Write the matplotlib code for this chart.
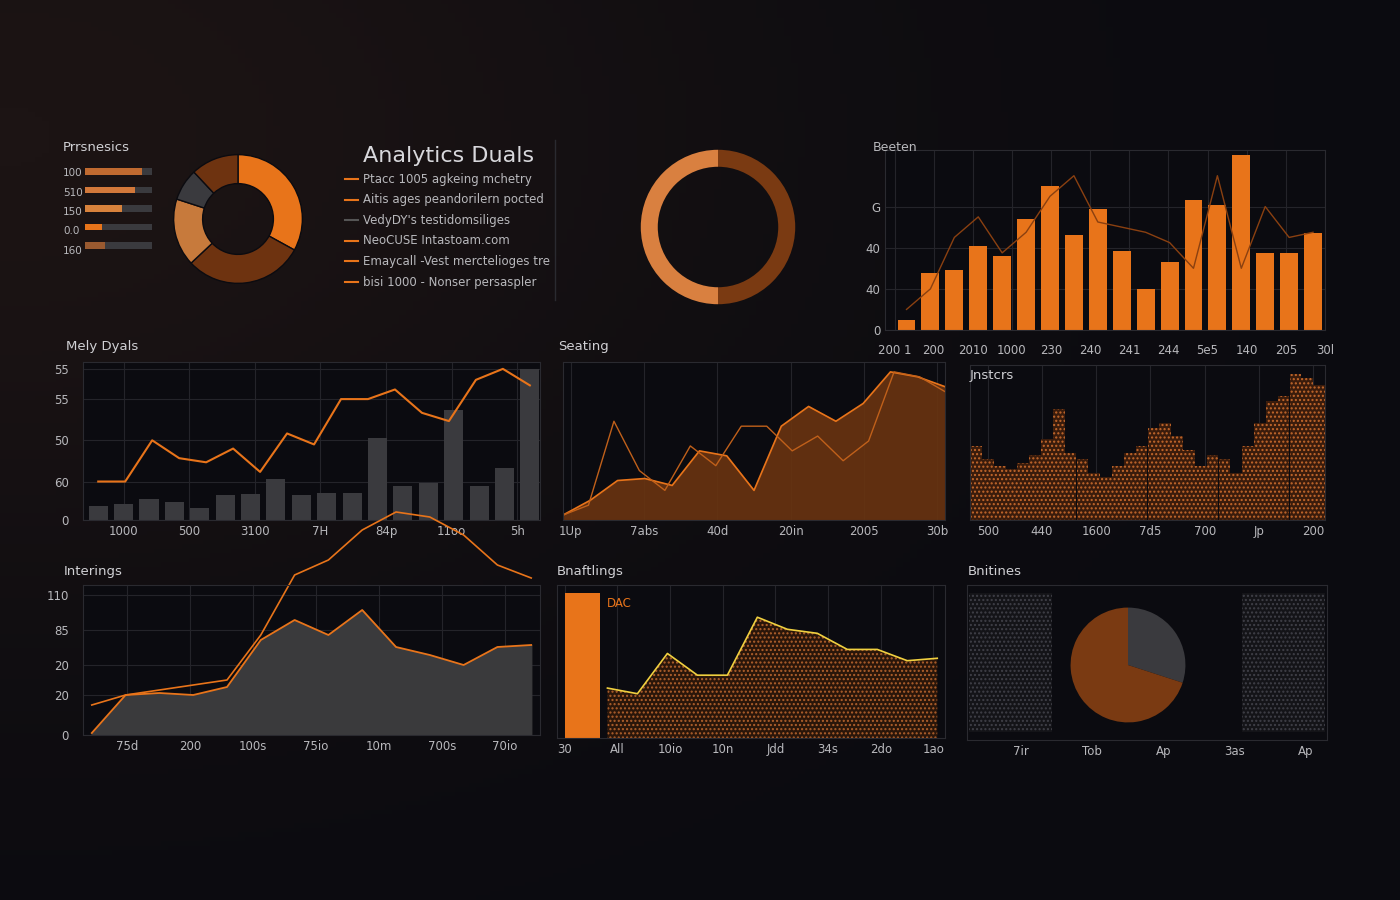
import matplotlib
matplotlib.use("Agg")
import matplotlib.pyplot as plt
import numpy as np

W, H = 1400, 900
BG = "#0b0b10"
OR = "#e8741a"
TXT = "#b8b8bc"

# ---- data ----
prog_labels = ["100", "510", "150", "0.0", "160"]
prog_vals = [0.85, 0.75, 0.55, 0.25, 0.30]
prog_cols = ["#c06a30", "#d2783a", "#d8823c", "#e8741a", "#9a5a30"]

donut1_vals = [33, 30, 17, 8, 12]
donut1_cols = ["#e8741a", "#6e3310", "#c77a3c", "#3a3a3e", "#6e3310"]

legend_items = ["Ptacc 1005 agkeing mchetry", "Aitis ages peandorilern pocted",
                "VedyDY's testidomsiliges", "NeoCUSE Intastoam.com",
                "Emaycall -Vest merctelioges tre", "bisi 1000 - Nonser persaspler"]
legend_cols = [OR, OR, "#555555", OR, OR, OR]

donut2_vals = [50, 50]

bar_vals = [10, 55, 58, 82, 72, 108, 140, 92, 118, 77, 40, 66, 126, 122, 170, 75, 75, 94]
bar_line = [20, 40, 90, 110, 75, 95, 130, 150, 105, 100, 95, 85, 60, 150, 60, 120, 90, 95]
bar_xt = ["200 1", "200", "2010", "1000", "230", "240", "241", "244", "5e5", "140", "205", "30l"]
bar_yt = ["0", "40", "40", "G"]

mely_line = [28, 28, 58, 45, 42, 52, 35, 63, 55, 88, 88, 95, 78, 72, 102, 110, 98]
mely_bars = [10, 12, 15, 13, 9, 18, 19, 30, 18, 20, 20, 60, 25, 27, 80, 25, 38, 110]
mely_xt = ["1000", "500", "3100", "7H", "84p", "11oo", "5h"]
mely_yt = ["0", "60", "50", "55", "55"]

seat_area = [5, 20, 40, 42, 35, 70, 65, 30, 95, 115, 100, 118, 150, 145, 135]
seat_line = [5, 15, 100, 50, 30, 75, 55, 95, 95, 70, 85, 60, 80, 150, 145, 130]
seat_xt = ["1Up", "7abs", "40d", "20in", "2005", "30b"]

jn_vals = [55, 45, 40, 38, 42, 48, 60, 82, 50, 45, 35, 32, 40, 50, 55, 68, 72, 62, 52, 40,
           48, 45, 35, 55, 72, 88, 92, 108, 105, 100]
jn_xt = ["500", "440", "1600", "7d5", "700", "Jp", "200"]

int_area = [2, 40, 42, 40, 48, 95, 115, 100, 125, 88, 80, 70, 88, 90]
int_line = [30, 40, 45, 50, 55, 100, 160, 175, 205, 223, 218, 200, 170, 157]
int_xt = ["75d", "200", "100s", "75io", "10m", "700s", "70io"]
int_yt = ["0", "20", "20", "85", "110"]

bn_line = [62, 55, 105, 78, 78, 150, 135, 130, 110, 110, 96, 99]
bn_xt = ["30", "All", "10io", "10n", "Jdd", "34s", "2do", "1ao"]

pie_vals = [30, 70]
pie_xt = ["7ir", "Tob", "Ap", "3as", "Ap"]

fig = plt.figure(figsize=(14, 9), dpi=100, facecolor=BG)


def ax_px(x0, y0, x1, y1, **kw):
    return fig.add_axes([x0 / W, 1 - y1 / H, (x1 - x0) / W, (y1 - y0) / H], **kw)


def style(ax, grid=True):
    ax.set_facecolor(BG)
    for s in ax.spines.values():
        s.set_color("#2a2a30")
    ax.tick_params(colors=TXT, labelsize=8.5, length=0)
    if grid:
        ax.grid(color="#24242a", lw=0.8)
        ax.set_axisbelow(True)


def ftext(x, y, s, **kw):
    kw.setdefault("color", TXT)
    kw.setdefault("fontsize", 9)
    fig.text(x / W, 1 - y / H, s, **kw)


def fitpie(ax):
    ax.set_xlim(-1.01, 1.01); ax.set_ylim(-1.01, 1.01); ax.set_aspect("equal")


# background gradient
bg = fig.add_axes([0, 0, 1, 1], zorder=-10)
g = np.linspace(0, 1, 200)
X, Y = np.meshgrid(g, g)
bg.imshow(np.exp(-((X) ** 2 + (Y - 0.15) ** 2) / 0.3),
          cmap=matplotlib.colors.LinearSegmentedColormap.from_list("b", [BG, "#1c1414"]), aspect="auto")
bg.axis("off")

# 1 progress bars
ftext(63, 151, "Prrsnesics", fontsize=9.5, color="#d0d0d4")
for i, l in enumerate(prog_labels):
    y = 172 + i * 19.5
    ftext(63, y + 4, l, fontsize=7.5)
ax = ax_px(85, 162, 152, 255)
ax.set_xlim(0, 1); ax.set_ylim(len(prog_vals) - 0.5, -0.5); ax.axis("off")
ax.barh(range(5), [1] * 5, height=0.35, color="#3a3a3e")
ax.barh(range(5), prog_vals, height=0.35, color=prog_cols)

# 2 donut1
ax = ax_px(173, 154, 303, 284)
ax.pie(donut1_vals, colors=donut1_cols, startangle=90, counterclock=False,
       wedgeprops=dict(width=0.45, edgecolor=BG, linewidth=1))
fitpie(ax)

# 3 title + legend
ftext(363, 162, "Analytics Duals", fontsize=16, color="#d8d8dc")
for i, (t, c) in enumerate(zip(legend_items, legend_cols)):
    y = 179 + i * 20.5
    fig.add_artist(plt.Line2D([345 / W, 358 / W], [1 - y / H] * 2, color=c, lw=1.5))
    ftext(363, y + 4, t, fontsize=8.5)
fig.add_artist(plt.Line2D([555 / W] * 2, [1 - 140 / H, 1 - 300 / H], color="#2a2a30", lw=1))

# 4 donut2
ax = ax_px(640, 149, 796, 305)
ax.pie(donut2_vals, colors=["#7a3a12", "#d98040"], startangle=90, counterclock=False,
       wedgeprops=dict(width=0.22))
fitpie(ax)

# 5 bar chart
ftext(873, 151, "Beeten", fontsize=9)
ax = ax_px(885, 150, 1325, 330)
style(ax)
ax.bar(range(len(bar_vals)), bar_vals, width=0.75, color=OR)
ax.plot(range(len(bar_line)), bar_line, color="#8a4010", lw=1)
ax.set_xlim(-0.9, len(bar_vals) - 0.5); ax.set_ylim(0, 175)
ax.set_yticks([0, 40, 80, 120]); ax.set_yticklabels(bar_yt)
ax.set_xticks(np.linspace(-0.5, len(bar_vals) - 0.5, len(bar_xt))); ax.set_xticklabels(bar_xt)
ax.tick_params(axis="x", pad=10)

# 6 Mely Dyals
ftext(66, 350, "Mely Dyals", fontsize=9.5, color="#d0d0d4")
ax = ax_px(83, 362, 540, 520)
style(ax)
xb = np.arange(len(mely_bars))
ax.bar(xb, mely_bars, width=0.75, color="#3a3a3e")
ax.plot(np.linspace(0, len(mely_bars) - 1, len(mely_line)), mely_line, color=OR, lw=1.5)
ax.set_xlim(-0.6, len(mely_bars) - 0.6); ax.set_ylim(0, 115)
ax.set_yticks([0, 28, 58, 88, 110]); ax.set_yticklabels(mely_yt)
ax.set_xticks(np.linspace(1, 16.5, len(mely_xt))); ax.set_xticklabels(mely_xt)
ax.tick_params(axis="y", pad=10)

# 7 Seating
ftext(558, 350, "Seating", fontsize=9.5, color="#d0d0d4")
ax = ax_px(563, 362, 945, 520)
style(ax)
xa = np.linspace(0, 1, len(seat_area))
ax.fill_between(xa, seat_area, color="#6a3410", alpha=0.9)
ax.plot(xa, seat_area, color=OR, lw=1.2)
ax.plot(np.linspace(0, 1, len(seat_line)), seat_line, color="#c0601a", lw=1)
ax.set_xlim(0, 1); ax.set_ylim(0, 160); ax.set_yticks([])
ax.set_xticks(np.linspace(0.02, 0.98, len(seat_xt))); ax.set_xticklabels(seat_xt)

# 8 Jnstcrs
ftext(970, 379, "Jnstcrs", fontsize=9.5, color="#d0d0d4")
ax = ax_px(970, 365, 1325, 520)
style(ax)
ax.bar(range(len(jn_vals)), jn_vals, width=1.0, color="#3a1c0c", hatch="....", edgecolor="#c4682c", lw=0)
ax.set_xlim(-0.5, len(jn_vals) - 0.5); ax.set_ylim(0, 115); ax.set_yticks([])
ax.set_xticks(np.linspace(1, 28.5, len(jn_xt))); ax.set_xticklabels(jn_xt)

# 9 Interings
ftext(64, 575, "Interings", fontsize=9.5, color="#d0d0d4")
ax = ax_px(83, 585, 540, 735)
style(ax)
xi = np.linspace(0, 1, len(int_area))
ax.fill_between(xi, int_area, color="#3a3a3c")
ax.plot(xi, int_area, color=OR, lw=1.3)
ax.plot(np.linspace(0, 1, len(int_line)), int_line, color=OR, lw=1.2, clip_on=False)
ax.set_xlim(-0.02, 1.02); ax.set_ylim(0, 150)
ax.set_yticks([0, 40, 70, 105, 140]); ax.set_yticklabels(int_yt)
ax.set_xticks(np.linspace(0.08, 0.94, len(int_xt))); ax.set_xticklabels(int_xt)
ax.tick_params(axis="y", pad=10)

# 10 Bnaftlings
ftext(557, 575, "Bnaftlings", fontsize=9.5, color="#d0d0d4")
ax = ax_px(557, 585, 945, 738)
style(ax)
xl = np.linspace(0.13, 0.98, len(bn_line))
ax.fill_between(xl, bn_line, color="#2a160a", hatch="....", edgecolor="#b0602c", lw=0)
ax.plot(xl, bn_line, color="#f0d040", lw=1.2)
ax.bar([0.065], [180], width=0.09, color=OR)
ftext(607, 607, "DAC", fontsize=8.5, color=OR)
ax.set_xlim(0, 1); ax.set_ylim(0, 190); ax.set_yticks([])
ax.set_xticks(np.linspace(0.02, 0.97, len(bn_xt))); ax.set_xticklabels(bn_xt)

# 11 Bnitines
ftext(968, 575, "Bnitines", fontsize=9.5, color="#d0d0d4")
ax = ax_px(967, 585, 1327, 740)
style(ax, grid=False)
ax.set_xlim(0, 1); ax.set_ylim(0, 1); ax.set_yticks([])
ax.bar([0.12, 0.88], [0.9, 0.9], width=0.23, bottom=0.05, color="#141418", hatch="....", edgecolor="#404048", lw=0)
ax.set_xticks(np.linspace(0.15, 0.94, len(pie_xt))); ax.set_xticklabels(pie_xt)
pax = ax_px(1070, 607, 1186, 723)
pax.pie(pie_vals, colors=["#3a3a3e", "#7a3a12"], startangle=90, counterclock=False)
fitpie(pax)

fig.savefig("out.png", dpi=100, facecolor=BG)
